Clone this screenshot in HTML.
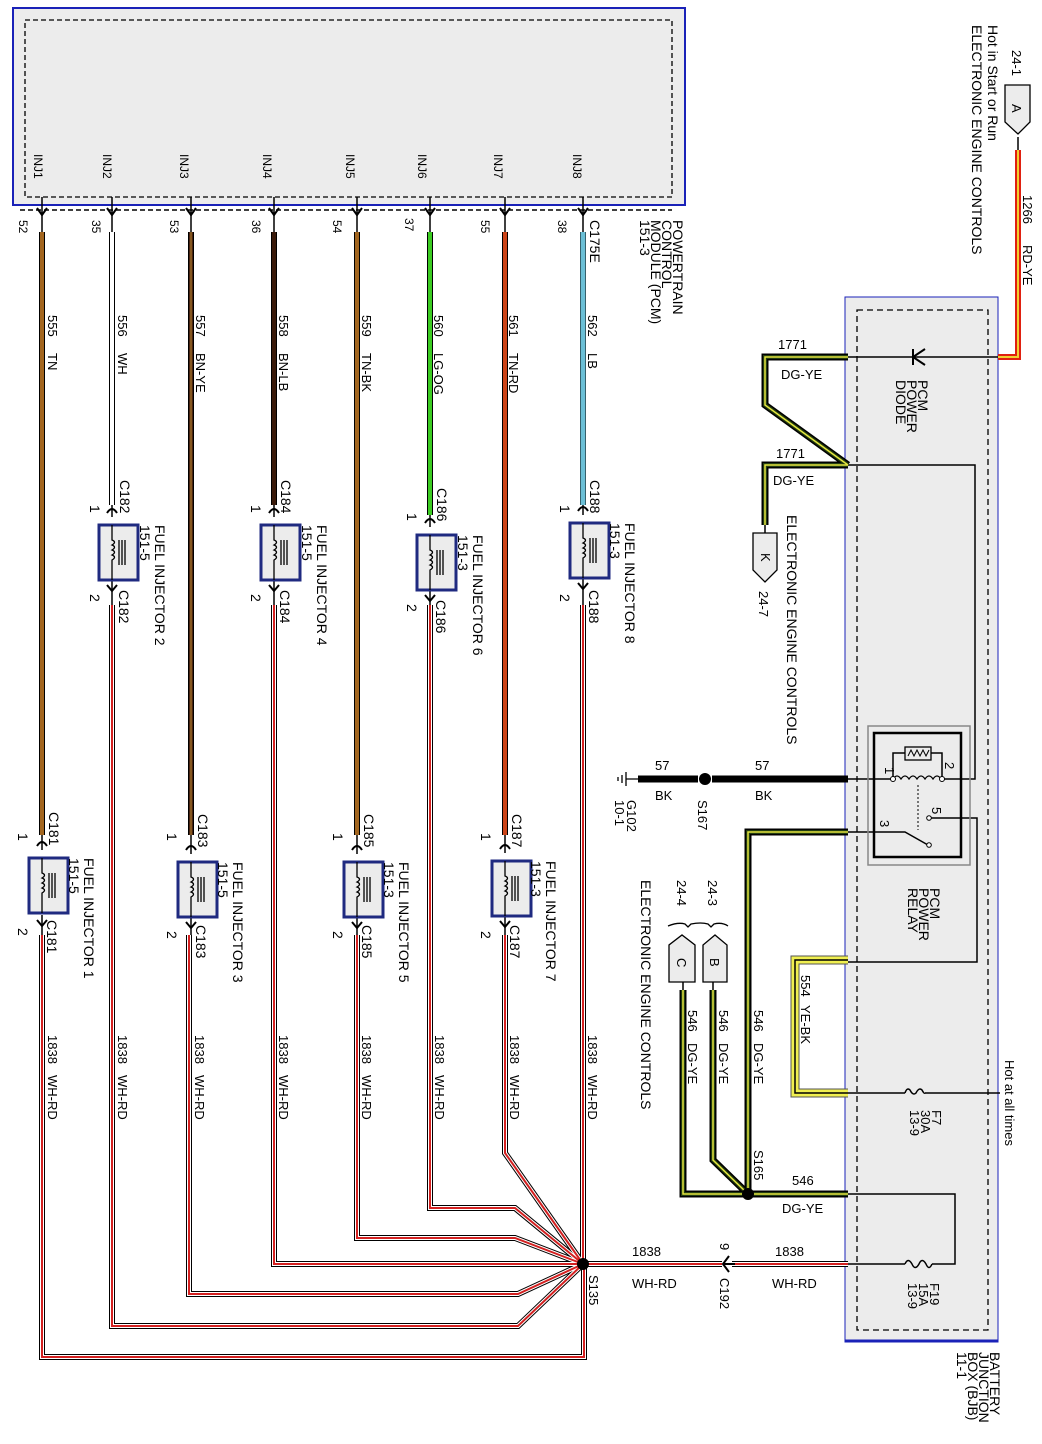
<!DOCTYPE html>
<html><head><meta charset="utf-8"><style>
html,body{margin:0;padding:0;background:#fff;}
svg{display:block;font-size:12px;}
text{font-family:"Liberation Sans",sans-serif;fill:#000;}
.b{font-size:14px;}
</style></head><body>
<svg width="1042" height="1444" viewBox="0 0 1042 1444" xmlns="http://www.w3.org/2000/svg">
<rect x="13" y="8" width="672" height="197" fill="#ececec" stroke="#1a22b8" stroke-width="2"/>
<rect x="25" y="20" width="647" height="177" fill="none" stroke="#000" stroke-width="1.3" stroke-dasharray="5,3"/>
<line x1="20" y1="210" x2="672" y2="210" stroke="#000" stroke-width="1.5" stroke-dasharray="5,3"/>
<rect x="845" y="297" width="153" height="1045" fill="#ececec" stroke="#1a22b8" stroke-width="1"/>
<line x1="845" y1="1341" x2="998" y2="1341" stroke="#1a22b8" stroke-width="3"/>
<rect x="857" y="310" width="131" height="1020" fill="none" stroke="#000" stroke-width="1.3" stroke-dasharray="6,4"/>

<g font-size="12">
<text transform="translate(34,154) rotate(90)">INJ1</text>
<text transform="translate(103,154) rotate(90)">INJ2</text>
<text transform="translate(180,154) rotate(90)">INJ3</text>
<text transform="translate(263,154) rotate(90)">INJ4</text>
<text transform="translate(346,154) rotate(90)">INJ5</text>
<text transform="translate(418,154) rotate(90)">INJ6</text>
<text transform="translate(494,154) rotate(90)">INJ7</text>
<text transform="translate(573,154) rotate(90)">INJ8</text>
<text transform="translate(19,220) rotate(90)">52</text>
<text transform="translate(92,220) rotate(90)">35</text>
<text transform="translate(170,220) rotate(90)">53</text>
<text transform="translate(252,220) rotate(90)">36</text>
<text transform="translate(333,220) rotate(90)">54</text>
<text transform="translate(405,218) rotate(90)">37</text>
<text transform="translate(481,220) rotate(90)">55</text>
<text transform="translate(558,220) rotate(90)">38</text>
<text class="b" transform="translate(590,220) rotate(90)">C175E</text>
<text class="b" transform="translate(673,220) rotate(90)">POWERTRAIN</text>
<text class="b" transform="translate(662,220) rotate(90)">CONTROL</text>
<text class="b" transform="translate(651,220) rotate(90)">MODULE (PCM)</text>
<text class="b" transform="translate(640,220) rotate(90)">151-3</text>
</g>

<g stroke="#000" stroke-width="1.5" fill="none">
<path d="M42,197V232M112,197V232M191,197V232M274,197V232M357,197V232M430,197V232M505,197V232M583,197V232"/>
<path d="M37,208l5,7l5,-7M107,208l5,7l5,-7M186,208l5,7l5,-7M269,208l5,7l5,-7M352,208l5,7l5,-7M425,208l5,7l5,-7M500,208l5,7l5,-7M578,208l5,7l5,-7" stroke-width="2"/>
</g>

<g fill="none">
<path d="M42,232V835M191,232V835M357,232V835M505,232V835" stroke="#000" stroke-width="6"/>
<path d="M112,232V505M274,232V505M430,232V515M583,232V505" stroke="#000" stroke-width="6"/>
<path d="M42,232V835" stroke="#a3661f" stroke-width="4"/>
<path d="M112,232V505" stroke="#fff" stroke-width="4"/>
<path d="M191,232V835" stroke="#4a2410" stroke-width="4"/>
<path d="M191,232V835" stroke="#c08a30" stroke-width="1"/>
<path d="M274,232V505" stroke="#3a1a0a" stroke-width="4"/>
<path d="M357,232V835" stroke="#a3661f" stroke-width="4"/>
<path d="M430,232V515" stroke="#3ccc22" stroke-width="4"/>
<path d="M505,232V835" stroke="#cc4418" stroke-width="4"/>
<path d="M583,232V505" stroke="#6bbfd6" stroke-width="5"/>
</g>
<g font-size="13">
<text transform="translate(48,315) rotate(90)">555</text><text transform="translate(48,353) rotate(90)">TN</text>
<text transform="translate(118,315) rotate(90)">556</text><text transform="translate(118,353) rotate(90)">WH</text>
<text transform="translate(196,315) rotate(90)">557</text><text transform="translate(196,353) rotate(90)">BN-YE</text>
<text transform="translate(279,315) rotate(90)">558</text><text transform="translate(279,353) rotate(90)">BN-LB</text>
<text transform="translate(362,315) rotate(90)">559</text><text transform="translate(362,353) rotate(90)">TN-BK</text>
<text transform="translate(434,315) rotate(90)">560</text><text transform="translate(434,353) rotate(90)">LG-OG</text>
<text transform="translate(509,315) rotate(90)">561</text><text transform="translate(509,353) rotate(90)">TN-RD</text>
<text transform="translate(588,315) rotate(90)">562</text><text transform="translate(588,353) rotate(90)">LB</text>
</g>

<g fill="none" stroke-linejoin="miter">
<g stroke="#000" stroke-width="6">
<path d="M42,935V1357H584V1264"/><path d="M112,605V1326H518L583,1264"/><path d="M189,935V1294H518L583,1264"/>
<path d="M274,605V1264H583"/><path d="M357,935V1238H515L583,1264"/><path d="M430,605V1208H515L583,1264"/>
<path d="M505,935V1153L583,1264"/><path d="M583,605V1264"/><path d="M583,1264H722M732,1264H848"/>
</g>
<g stroke="#fff" stroke-width="4">
<path d="M42,935V1357H584V1264"/><path d="M112,605V1326H518L583,1264"/><path d="M189,935V1294H518L583,1264"/>
<path d="M274,605V1264H583"/><path d="M357,935V1238H515L583,1264"/><path d="M430,605V1208H515L583,1264"/>
<path d="M505,935V1153L583,1264"/><path d="M583,605V1264"/><path d="M583,1264H722M732,1264H848"/>
</g>
<g stroke="#d42020" stroke-width="2">
<path d="M42,935V1357H584V1264"/><path d="M112,605V1326H518L583,1264"/><path d="M189,935V1294H518L583,1264"/>
<path d="M274,605V1264H583"/><path d="M357,935V1238H515L583,1264"/><path d="M430,605V1208H515L583,1264"/>
<path d="M505,935V1153L583,1264"/><path d="M583,605V1264"/><path d="M583,1264H722M732,1264H848"/>
</g>
</g>
<circle cx="583" cy="1264" r="6" fill="#000"/>
<path d="M729,1256l-6,8l6,8M723,1264h12" stroke="#000" stroke-width="2" fill="none"/>
<g font-size="13">
<text transform="translate(48,1035) rotate(90)">1838</text><text transform="translate(48,1075) rotate(90)">WH-RD</text>
<text transform="translate(118,1035) rotate(90)">1838</text><text transform="translate(118,1075) rotate(90)">WH-RD</text>
<text transform="translate(195,1035) rotate(90)">1838</text><text transform="translate(195,1075) rotate(90)">WH-RD</text>
<text transform="translate(279,1035) rotate(90)">1838</text><text transform="translate(279,1075) rotate(90)">WH-RD</text>
<text transform="translate(362,1035) rotate(90)">1838</text><text transform="translate(362,1075) rotate(90)">WH-RD</text>
<text transform="translate(435,1035) rotate(90)">1838</text><text transform="translate(435,1075) rotate(90)">WH-RD</text>
<text transform="translate(510,1035) rotate(90)">1838</text><text transform="translate(510,1075) rotate(90)">WH-RD</text>
<text transform="translate(588,1035) rotate(90)">1838</text><text transform="translate(588,1075) rotate(90)">WH-RD</text>
<text transform="translate(589,1275) rotate(90)">S135</text>
<text x="632" y="1256">1838</text><text x="632" y="1288">WH-RD</text>
<text x="775" y="1256">1838</text><text x="772" y="1288">WH-RD</text>
<text transform="translate(720,1243) rotate(90)">9</text>
<text transform="translate(720,1278) rotate(90)">C192</text>
</g>

<g stroke="#000" fill="none">
<g transform="translate(42,858)">
<path d="M0,-23V-8M0,57V77" stroke-width="1.5"/>
<path d="M-5,-12q5,-8 10,0M-5,62l5,6l5,-6" stroke-width="2"/>
<rect x="-13" y="0" width="39" height="55" fill="#ececec" stroke="#1f2a80" stroke-width="3"/>
<path d="M0,0V15q5,2 0,5q5,2 0,5q5,2 0,5q5,2 0,5V55M7,15V40M10,15V40M13,15V40" stroke-width="1.3"/>
</g>
<g transform="translate(191,862)">
<path d="M0,-27V-8M0,55V73" stroke-width="1.5"/>
<path d="M-5,-12q5,-8 10,0M-5,60l5,6l5,-6" stroke-width="2"/>
<rect x="-13" y="0" width="39" height="55" fill="#ececec" stroke="#1f2a80" stroke-width="3"/>
<path d="M0,0V15q5,2 0,5q5,2 0,5q5,2 0,5q5,2 0,5V55M7,15V40M10,15V40M13,15V40" stroke-width="1.3"/>
</g>
<g transform="translate(357,862)">
<path d="M0,-27V-8M0,55V73" stroke-width="1.5"/>
<path d="M-5,-12q5,-8 10,0M-5,60l5,6l5,-6" stroke-width="2"/>
<rect x="-13" y="0" width="39" height="55" fill="#ececec" stroke="#1f2a80" stroke-width="3"/>
<path d="M0,0V15q5,2 0,5q5,2 0,5q5,2 0,5q5,2 0,5V55M7,15V40M10,15V40M13,15V40" stroke-width="1.3"/>
</g>
<g transform="translate(505,861)">
<path d="M0,-26V-8M0,55V74" stroke-width="1.5"/>
<path d="M-5,-12q5,-8 10,0M-5,60l5,6l5,-6" stroke-width="2"/>
<rect x="-13" y="0" width="39" height="55" fill="#ececec" stroke="#1f2a80" stroke-width="3"/>
<path d="M0,0V15q5,2 0,5q5,2 0,5q5,2 0,5q5,2 0,5V55M7,15V40M10,15V40M13,15V40" stroke-width="1.3"/>
</g>
<g transform="translate(112,525)">
<path d="M0,-20V-8M0,55V80" stroke-width="1.5"/>
<path d="M-5,-12q5,-8 10,0M-5,60l5,6l5,-6" stroke-width="2"/>
<rect x="-13" y="0" width="39" height="55" fill="#ececec" stroke="#1f2a80" stroke-width="3"/>
<path d="M0,0V15q5,2 0,5q5,2 0,5q5,2 0,5q5,2 0,5V55M7,15V40M10,15V40M13,15V40" stroke-width="1.3"/>
</g>
<g transform="translate(274,525)">
<path d="M0,-20V-8M0,55V80" stroke-width="1.5"/>
<path d="M-5,-12q5,-8 10,0M-5,60l5,6l5,-6" stroke-width="2"/>
<rect x="-13" y="0" width="39" height="55" fill="#ececec" stroke="#1f2a80" stroke-width="3"/>
<path d="M0,0V15q5,2 0,5q5,2 0,5q5,2 0,5q5,2 0,5V55M7,15V40M10,15V40M13,15V40" stroke-width="1.3"/>
</g>
<g transform="translate(430,535)">
<path d="M0,-20V-8M0,55V70" stroke-width="1.5"/>
<path d="M-5,-12q5,-8 10,0M-5,60l5,6l5,-6" stroke-width="2"/>
<rect x="-13" y="0" width="39" height="55" fill="#ececec" stroke="#1f2a80" stroke-width="3"/>
<path d="M0,0V15q5,2 0,5q5,2 0,5q5,2 0,5q5,2 0,5V55M7,15V40M10,15V40M13,15V40" stroke-width="1.3"/>
</g>
<g transform="translate(583,523)">
<path d="M0,-18V-8M0,55V82" stroke-width="1.5"/>
<path d="M-5,-12q5,-8 10,0M-5,60l5,6l5,-6" stroke-width="2"/>
<rect x="-13" y="0" width="39" height="55" fill="#ececec" stroke="#1f2a80" stroke-width="3"/>
<path d="M0,0V15q5,2 0,5q5,2 0,5q5,2 0,5q5,2 0,5V55M7,15V40M10,15V40M13,15V40" stroke-width="1.3"/>
</g>
</g>
<g font-size="14">
<text transform="translate(49,812) rotate(90)">C181</text><text transform="translate(18,833) rotate(90)">1</text>
<text transform="translate(69,858) rotate(90)">151-5</text><text transform="translate(84,858) rotate(90)">FUEL INJECTOR 1</text>
<text transform="translate(18,928) rotate(90)">2</text><text transform="translate(47,920) rotate(90)">C181</text>
<text transform="translate(198,814) rotate(90)">C183</text><text transform="translate(167,833) rotate(90)">1</text>
<text transform="translate(218,862) rotate(90)">151-5</text><text transform="translate(233,862) rotate(90)">FUEL INJECTOR 3</text>
<text transform="translate(167,931) rotate(90)">2</text><text transform="translate(196,925) rotate(90)">C183</text>
<text transform="translate(364,814) rotate(90)">C185</text><text transform="translate(333,833) rotate(90)">1</text>
<text transform="translate(384,862) rotate(90)">151-3</text><text transform="translate(399,862) rotate(90)">FUEL INJECTOR 5</text>
<text transform="translate(333,931) rotate(90)">2</text><text transform="translate(362,925) rotate(90)">C185</text>
<text transform="translate(512,814) rotate(90)">C187</text><text transform="translate(481,833) rotate(90)">1</text>
<text transform="translate(531,861) rotate(90)">151-3</text><text transform="translate(546,861) rotate(90)">FUEL INJECTOR 7</text>
<text transform="translate(481,931) rotate(90)">2</text><text transform="translate(510,925) rotate(90)">C187</text>

<text transform="translate(120,480) rotate(90)">C182</text><text transform="translate(90,505) rotate(90)">1</text>
<text transform="translate(140,525) rotate(90)">151-5</text><text transform="translate(155,525) rotate(90)">FUEL INJECTOR 2</text>
<text transform="translate(90,594) rotate(90)">2</text><text transform="translate(119,590) rotate(90)">C182</text>
<text transform="translate(281,480) rotate(90)">C184</text><text transform="translate(251,505) rotate(90)">1</text>
<text transform="translate(302,525) rotate(90)">151-5</text><text transform="translate(317,525) rotate(90)">FUEL INJECTOR 4</text>
<text transform="translate(251,594) rotate(90)">2</text><text transform="translate(280,590) rotate(90)">C184</text>
<text transform="translate(437,488) rotate(90)">C186</text><text transform="translate(407,513) rotate(90)">1</text>
<text transform="translate(458,535) rotate(90)">151-3</text><text transform="translate(473,535) rotate(90)">FUEL INJECTOR 6</text>
<text transform="translate(407,604) rotate(90)">2</text><text transform="translate(436,600) rotate(90)">C186</text>
<text transform="translate(590,480) rotate(90)">C188</text><text transform="translate(560,505) rotate(90)">1</text>
<text transform="translate(610,523) rotate(90)">151-3</text><text transform="translate(625,523) rotate(90)">FUEL INJECTOR 8</text>
<text transform="translate(560,594) rotate(90)">2</text><text transform="translate(589,590) rotate(90)">C188</text>
</g>

<g stroke="#000" stroke-width="1.5" fill="none">
<path d="M848,357H1000"/>
<path d="M848,465H975V779H942"/>
<path d="M848,779H893M929,818H977V962H848"/>
<path d="M848,832H905L928,845"/>
<path d="M848,1093H905M925,1093H1000"/>
<path d="M905,1093q2,-6 5,-3q3,6 6,3q3,-6 6,-3q2,4 3,3"/>
<path d="M848,1194H955V1264H932M848,1264H905"/>
<path d="M905,1264q3,-7 7,0q3,7 7,0q3,-7 7,0q3,7 6,0"/>
<rect x="868" y="726" width="102" height="139" stroke="#888" stroke-width="1.5"/>
<rect x="874" y="733" width="87" height="124" stroke-width="2.5"/>
<path d="M893,779q4,-6 8,0q4,-6 8,0q4,-6 8,0q4,-6 8,0q4,-6 8,0q4,-6 8,0" stroke-width="1.3"/>
<path d="M893,779V753H905M931,753H942V779"/>
<rect x="905" y="747" width="26" height="13" stroke-width="1.3"/>
<path d="M908,756l3,-6l3,6l3,-6l3,6l3,-6l3,6l3,-6" stroke-width="1"/>
<path d="M918,785V830" stroke-dasharray="2,2" stroke-width="1"/>
<path d="M913,349V365M925,349L913,357L925,365" stroke-width="2"/>
</g>
<g fill="#fff" stroke="#000" stroke-width="1"><circle cx="893" cy="779" r="2.5"/><circle cx="942" cy="779" r="2.5"/><circle cx="929" cy="818" r="2.3"/><circle cx="929" cy="845" r="2.3"/></g>

<g fill="none">
<g stroke="#000" stroke-width="7">
<path d="M848,357H765V405L848,465"/><path d="M848,465H765V525"/>
<path d="M848,832H748V1194"/><path d="M848,1194H683V990"/><path d="M713,990V1160L748,1194"/>
</g>
<g stroke="#233d10" stroke-width="4">
<path d="M848,357H765V405L848,465"/><path d="M848,465H765V525"/>
<path d="M848,832H748V1194"/><path d="M848,1194H683V990"/><path d="M713,990V1160L748,1194"/>
</g>
<g stroke="#e6e640" stroke-width="1.5">
<path d="M848,357H765V405L848,465"/><path d="M848,465H765V525"/>
<path d="M848,832H748V1194"/><path d="M848,1194H683V990"/><path d="M713,990V1160L748,1194"/>
</g>
<path d="M848,960H795V1093H848" stroke="#555" stroke-width="9"/>
<path d="M848,960H795V1093H848" stroke="#f0ef50" stroke-width="7"/>
<path d="M848,960H795V1093H848" stroke="#000" stroke-width="1.5"/>
<path d="M998,357H1018V150" stroke="#e02010" stroke-width="6"/>
<path d="M998,357H1018V150" stroke="#f0d030" stroke-width="2"/>
<path d="M848,779H712M698,779H638" stroke="#000" stroke-width="7"/>
<path d="M638,779H626M626,772V786M622,775V783M618,777V781" stroke="#000" stroke-width="1.3"/>
</g>
<circle cx="705" cy="779" r="6" fill="#000"/>
<circle cx="748" cy="1194" r="6" fill="#000"/>
<path d="M765,525V533M683,990V982M713,990V982M1018,150V137" stroke="#000" stroke-width="1.5"/>
<g fill="#ececec" stroke="#000" stroke-width="1.3">
<path d="M753,533H777V570L765,582L753,570Z"/>
<path d="M669,982V945L682,935L695,945V982Z"/>
<path d="M703,982V945L715,935L727,945V982Z"/>
<path d="M1005,85H1030V122L1018,134L1005,122Z"/>
</g>
<path d="M668,926q10,-4 17,-2l3,3l3,-3q10,-2 17,0l3,3l3,-3q8,-2 14,2" stroke="#000" stroke-width="1.3" fill="none"/>
<g font-size="13">
<text transform="translate(761,553) rotate(90)">K</text>
<text transform="translate(677,958) rotate(90)">C</text>
<text transform="translate(710,958) rotate(90)">B</text>
<text transform="translate(1012,104) rotate(90)">A</text>
<text transform="translate(759,591) rotate(90)">24-7</text>
<text class="b" transform="translate(787,515) rotate(90)">ELECTRONIC ENGINE CONTROLS</text>
<text transform="translate(1012,50) rotate(90)">24-1</text>
<text class="b" transform="translate(988,25) rotate(90)">Hot in Start or Run</text>
<text class="b" transform="translate(972,25) rotate(90)">ELECTRONIC ENGINE CONTROLS</text>
<text transform="translate(1023,195) rotate(90)">1266</text><text transform="translate(1023,245) rotate(90)">RD-YE</text>
<text x="778" y="349">1771</text><text x="781" y="379">DG-YE</text>
<text x="776" y="458">1771</text><text x="773" y="485">DG-YE</text>
<text class="b" transform="translate(918,380) rotate(90)">PCM</text>
<text class="b" transform="translate(907,380) rotate(90)">POWER</text>
<text class="b" transform="translate(896,380) rotate(90)">DIODE</text>
<text class="b" transform="translate(930,888) rotate(90)">PCM</text>
<text class="b" transform="translate(919,888) rotate(90)">POWER</text>
<text class="b" transform="translate(908,888) rotate(90)">RELAY</text>
<text transform="translate(885,767) rotate(90)">1</text>
<text transform="translate(945,762) rotate(90)">2</text>
<text transform="translate(932,807) rotate(90)">5</text>
<text transform="translate(880,820) rotate(90)">3</text>
<text x="655" y="770">57</text><text x="655" y="800">BK</text>
<text x="755" y="770">57</text><text x="755" y="800">BK</text>
<text transform="translate(698,800) rotate(90)">S167</text>
<text transform="translate(627,800) rotate(90)">G102</text>
<text transform="translate(615,800) rotate(90)">10-1</text>
<text transform="translate(708,880) rotate(90)">24-3</text>
<text transform="translate(677,880) rotate(90)">24-4</text>
<text class="b" transform="translate(641,880) rotate(90)">ELECTRONIC ENGINE CONTROLS</text>
<text transform="translate(754,1010) rotate(90)">546</text><text transform="translate(754,1043) rotate(90)">DG-YE</text>
<text transform="translate(719,1010) rotate(90)">546</text><text transform="translate(719,1043) rotate(90)">DG-YE</text>
<text transform="translate(688,1010) rotate(90)">546</text><text transform="translate(688,1043) rotate(90)">DG-YE</text>
<text transform="translate(801,975) rotate(90)">554</text><text transform="translate(801,1005) rotate(90)">YE-BK</text>
<text transform="translate(1005,1060) rotate(90)">Hot at all times</text>
<text transform="translate(932,1110) rotate(90)">F7</text>
<text transform="translate(921,1110) rotate(90)">30A</text>
<text transform="translate(910,1110) rotate(90)">13-9</text>
<text transform="translate(754,1150) rotate(90)">S165</text>
<text x="792" y="1185">546</text><text x="782" y="1213">DG-YE</text>
<text transform="translate(930,1283) rotate(90)">F19</text>
<text transform="translate(919,1283) rotate(90)">15A</text>
<text transform="translate(908,1283) rotate(90)">13-9</text>
<text class="b" transform="translate(990,1352) rotate(90)">BATTERY</text>
<text class="b" transform="translate(979,1352) rotate(90)">JUNCTION</text>
<text class="b" transform="translate(968,1352) rotate(90)">BOX (BJB)</text>
<text class="b" transform="translate(957,1352) rotate(90)">11-1</text>
</g>
</svg>
</body></html>
